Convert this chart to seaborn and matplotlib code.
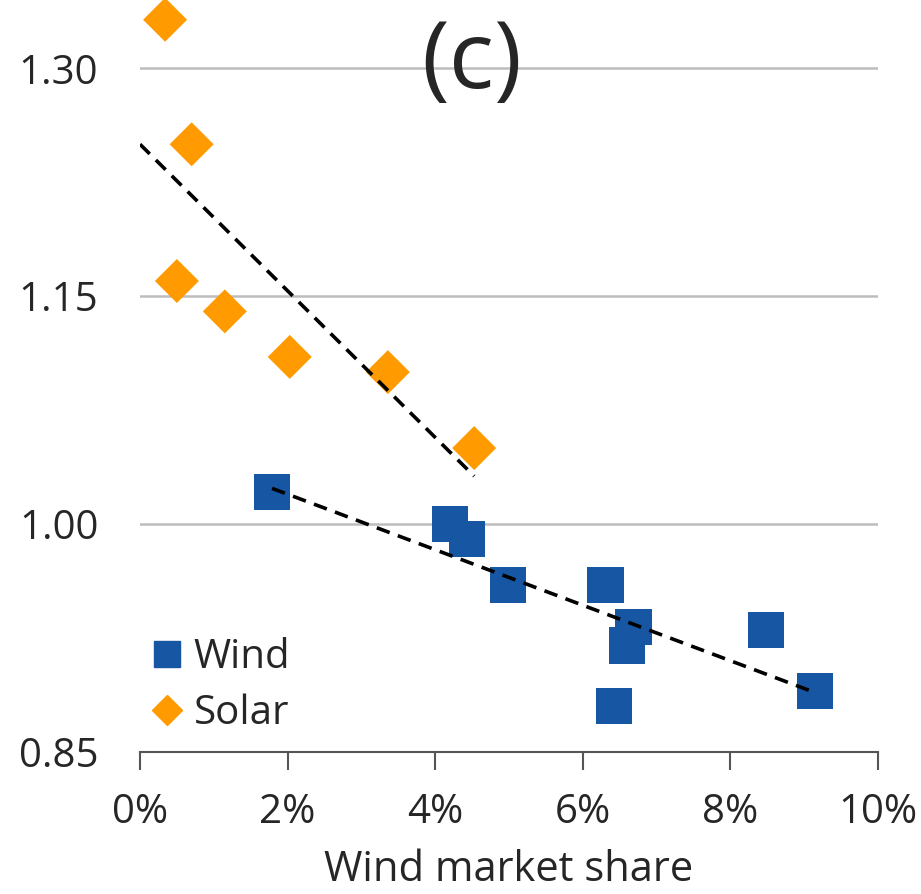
import numpy as np
import pandas as pd
import matplotlib
matplotlib.use('Agg')
import matplotlib.pyplot as plt
from matplotlib.lines import Line2D
import seaborn as sns

# market share in %, relative value
wind_share = [1.79, 4.20, 4.43, 4.99, 6.31, 6.69, 6.60, 6.42, 8.48, 9.15]
wind_value = [1.021, 1.000, 0.990, 0.960, 0.960, 0.932, 0.920, 0.880, 0.930, 0.890]
solar_share = [0.34, 0.70, 0.50, 1.15, 2.03, 3.36, 4.53]
solar_value = [1.332, 1.250, 1.160, 1.140, 1.110, 1.100, 1.050]

x_ticks = [0, 2, 4, 6, 8, 10]
y_ticks = [0.85, 1.00, 1.15, 1.30]

blue = '#1656A3'
orange = '#FF9A00'

sns.set_style('white')
plt.rcParams['font.family'] = ['Open Sans', 'DejaVu Sans']

df_wind = pd.DataFrame({'share': wind_share, 'value': wind_value})
df_solar = pd.DataFrame({'share': solar_share, 'value': solar_value})

fig = plt.figure(figsize=(9.21, 8.94), dpi=100)
ax = fig.add_axes([0.152, 0.159, 0.801, 0.841])

sns.scatterplot(data=df_wind, x='share', y='value', marker='s', s=26 ** 2, color=blue,
                edgecolor='none', ax=ax, zorder=3, clip_on=False)
sns.scatterplot(data=df_solar, x='share', y='value', marker='D', s=22.4 ** 2, color=orange,
                edgecolor='none', ax=ax, zorder=3, clip_on=False)

# linear trend lines
dash = dict(color='black', lw=2.6, dashes=(3.8, 2.4), zorder=4)
k, b = np.polyfit(solar_share, solar_value, 1)
xs = np.array([0, max(solar_share)])
ax.plot(xs, k * xs + b, **dash)
k, b = np.polyfit(wind_share, wind_value, 1)
xw = np.array([min(wind_share), max(wind_share)])
ax.plot(xw, k * xw + b, **dash)

ax.set_xlim(0, 10)
ax.set_ylim(0.85, 1.345)
ax.set_xticks(x_ticks)
ax.set_xticklabels([f'{t}%' for t in x_ticks])
ax.set_yticks(y_ticks)
ax.set_yticklabels([f'{t:.2f}' for t in y_ticks])
ax.tick_params(axis='x', direction='out', length=13, width=1.5, color='#555555',
               labelsize=29, pad=16, bottom=True)
ax.tick_params(axis='y', length=0, labelsize=29, pad=30)
ax.set_xlabel('Wind market share', fontsize=30, labelpad=12)
ax.set_ylabel('')

for t in y_ticks[1:]:
    ax.axhline(t, color='#BDBDBD', lw=1.8, zorder=1)

for side in ['left', 'right', 'top']:
    ax.spines[side].set_visible(False)
ax.spines['bottom'].set_color('#555555')
ax.spines['bottom'].set_linewidth(1.5)

ax.text(0.45, 0.915, '(c)', transform=ax.transAxes, fontsize=68, ha='center', va='center')

handles = [Line2D([], [], marker='s', ls='none', color=blue, markersize=19, label='Wind'),
           Line2D([], [], marker='D', ls='none', color=orange, markersize=15, label='Solar')]
ax.legend(handles=handles, loc='lower left', bbox_to_anchor=(-0.045, -0.025), frameon=False,
          fontsize=29, handletextpad=0.05, labelspacing=0.4, handlelength=1.2)

fig.savefig('out.png', dpi=100)
